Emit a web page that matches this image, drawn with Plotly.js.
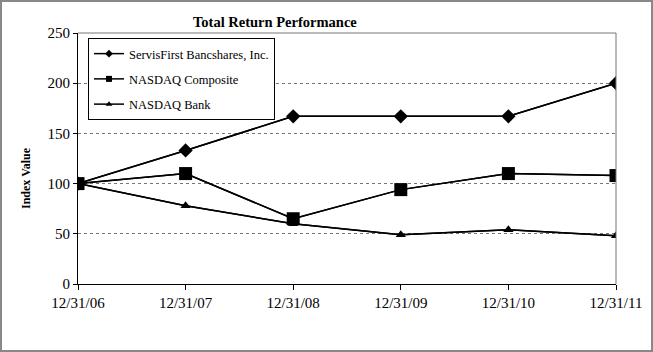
<!DOCTYPE html>
<html><head><meta charset="utf-8">
<script src="https://cdn.plot.ly/plotly-3.0.1.min.js"></script>
<style>html,body{margin:0;padding:0;background:#fff}#c{width:653px;height:352px}</style>
</head><body><div id="c"></div>
<script>
const dates = ["12/31/06","12/31/07","12/31/08","12/31/09","12/31/10","12/31/11"];
const servisFirst = [100, 133, 167, 167, 167, 200];
const nasdaqComposite = [100, 110, 65, 94, 110, 108];
const nasdaqBank = [100, 78, 60, 49, 54, 48];
const names = ["ServisFirst Bancshares, Inc.", "NASDAQ Composite", "NASDAQ Bank"];

const W = 653, H = 352;
const m = {l: 78, r: 37, t: 33, b: 68};
const pw = W - m.l - m.r, ph = H - m.t - m.b;
const FF = "Liberation Serif";

function tr(y, name, sym, size, g, leg) {
  return {x: dates, y: y, name: name, type: "scatter", mode: "lines+markers",
    legendgroup: g, showlegend: leg,
    line: {color: "#000", width: 1.5},
    marker: {symbol: sym, size: size, color: "#000"}};
}
const data = [
  // legend entries (small markers, drawn underneath the main markers)
  tr(servisFirst, names[0], "diamond", 6, "a", true),
  tr(nasdaqComposite, names[1], "square", 6, "b", true),
  tr(nasdaqBank, names[2], "triangle-up", 6, "c", true),
  tr(servisFirst, names[0], "diamond", 11, "a", false),
  tr(nasdaqComposite, names[1], "square", 13, "b", false),
  tr(nasdaqBank, names[2], "triangle-up", 9, "c", false)
];
const layout = {
  width: W, height: H, margin: m,
  paper_bgcolor: "#fff", plot_bgcolor: "#fff",
  font: {family: FF, size: 14, color: "#000"},
  showlegend: true,
  legend: {x: 10/pw, y: (H - m.b - 38)/ph, xanchor: "left", yanchor: "top",
    bgcolor: "#fff", bordercolor: "#000", borderwidth: 1,
    font: {family: FF, size: 12.5, color: "#000"},
    traceorder: "grouped", tracegroupgap: 6, itemwidth: 30},
  xaxis: {type: "category", range: [0, 5], showgrid: false,
    showline: true, linecolor: "#000", linewidth: 1,
    ticks: "outside", ticklen: 5, tickcolor: "#000",
    tickfont: {family: FF, size: 15}, fixedrange: true},
  yaxis: {range: [0, 250], dtick: 50, showgrid: true,
    gridcolor: "#777", griddash: "dot", gridwidth: 1,
    showline: true, linecolor: "#000", linewidth: 1,
    ticks: "outside", ticklen: 4, tickcolor: "#000",
    tickfont: {family: FF, size: 15}, zeroline: false},
  shapes: [
    {type: "line", xref: "paper", yref: "paper", x0: 0, x1: 1, y0: 1, y1: 1, line: {color: "#777", width: 1}},
    {type: "line", xref: "paper", yref: "paper", x0: 1, x1: 1, y0: 0, y1: 1, line: {color: "#777", width: 1}},
    {type: "rect", xref: "paper", yref: "paper",
      x0: -(m.l - 1)/pw, x1: 1 + (m.r - 1)/pw, y0: -(m.b - 1)/ph, y1: 1 + (m.t - 1)/ph,
      line: {color: "#888", width: 2}}
  ],
  annotations: [
    {text: "<b>Total Return Performance</b>", xref: "paper", yref: "paper",
      x: (275 - m.l)/pw, y: 1 + 11/ph, xanchor: "center", yanchor: "middle",
      showarrow: false, font: {family: FF, size: 14.5}},
    {text: "<b>Index Value</b>", xref: "paper", yref: "paper",
      x: (26 - m.l)/pw, y: (H - m.b - 178)/ph, textangle: -90,
      xanchor: "center", yanchor: "middle", showarrow: false,
      font: {family: FF, size: 12}}
  ]
};
Plotly.newPlot("c", data, layout, {displayModeBar: false, staticPlot: true});
</script></body></html>
